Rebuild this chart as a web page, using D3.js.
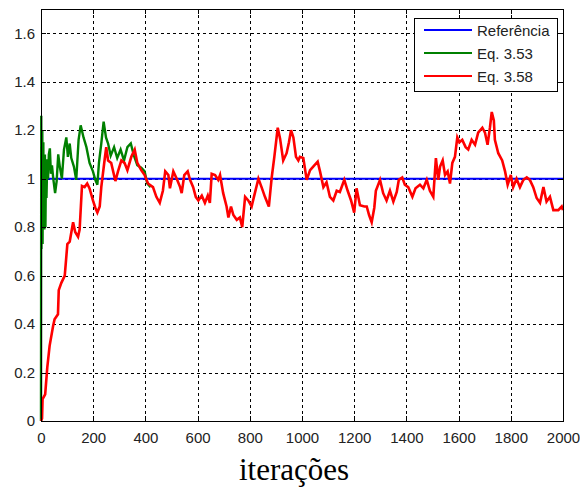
<!DOCTYPE html>
<html>
<head>
<meta charset="utf-8">
<script src="https://cdn.jsdelivr.net/npm/d3@7"></script>
<style>
  html, body { margin: 0; padding: 0; background: #fff; }
  svg { display: block; }
</style>
</head>
<body>
<svg id="chart" width="580" height="488"></svg>
<script>
// ---------- data ----------
const xTicks = [0, 200, 400, 600, 800, 1000, 1200, 1400, 1600, 1800, 2000];
const yTicks = [0, 0.2, 0.4, 0.6, 0.8, 1, 1.2, 1.4, 1.6];
const yTickLabels = ["0", "0.2", "0.4", "0.6", "0.8", "1", "1.2", "1.4", "1.6"];
const seriesNames = ["Referência", "Eq. 3.53", "Eq. 3.58"];
const seriesColors = ["#0000ff", "#008000", "#ff0000"];
const xLabel = "iterações";

const refIter = [0, 2000];
const refVal = [1, 1];

const greenIter = [0,1,2,3,4,5,6,7,8,9,10,12,13,15,17,19,21,24,27,30,34,38,42,47,54,60,66,72,80,88,97,103,110,116,126,135,144,152,163,174,186,199,208,216,222,231,240,249,257,267,280,292,305,318,331,344,356,369,384,397,407,420,430];
const greenVal  = [0,1.26,0.71,1.12,0.78,1.2,0.73,1.05,0.8,1.15,0.82,1.08,0.79,1.1,0.8,1.05,0.92,1.08,1.0,1.1,1.125,1.02,1.055,1.0,0.94,0.99,1.1,1.05,1.0,1.12,1.17,1.09,1.145,1.085,1.05,0.995,1.16,1.22,1.17,1.13,1.065,1.03,0.995,0.975,1.065,1.145,1.235,1.17,1.145,1.095,1.13,1.085,1.12,1.075,1.13,1.145,1.095,1.055,1.045,1.03,0.98,0.965];

const redIter = [0,4,6,16,24,33,46,52,65,68,78,91,101,110,123,131,142,148,157,167,177,186,199,208,216,225,231,244,250,257,269,285,295,308,320,331,346,359,369,384,397,410,429,442,455,467,476,488,494,507,520,533,539,549,562,571,583,593,603,616,628,639,647,654,667,679,686,698,711,718,728,737,750,762,771,782,794,807,817,833,845,858,873,884,894,907,916,928,941,950,958,967,977,986,992,1005,1018,1031,1043,1060,1069,1082,1094,1107,1120,1133,1145,1162,1175,1188,1200,1209,1222,1239,1248,1257,1267,1277,1283,1299,1311,1324,1337,1350,1363,1371,1384,1394,1407,1423,1435,1452,1465,1478,1490,1503,1513,1522,1529,1539,1548,1558,1567,1576,1586,1595,1603,1614,1627,1637,1650,1663,1675,1691,1701,1711,1720,1727,1735,1739,1752,1767,1778,1788,1800,1809,1822,1835,1848,1861,1873,1886,1899,1912,1925,1937,1950,1963,1982,1995,2000];
const redVal  = [0,0.01,0.09,0.11,0.22,0.31,0.39,0.42,0.44,0.54,0.57,0.60,0.73,0.74,0.82,0.78,0.76,0.79,0.97,0.965,0.98,0.96,0.91,0.88,0.86,0.885,0.965,1.08,1.13,1.075,1.065,0.99,1.03,1.075,1.065,1.035,1.09,1.12,1.065,1.035,1.015,0.98,0.965,0.925,0.90,0.95,1.03,1.015,0.96,1.03,1.0,0.965,0.94,1.015,1.03,0.995,0.965,0.925,0.91,0.93,0.90,0.93,0.90,1.02,1.015,0.995,1.015,0.94,0.885,0.84,0.885,0.85,0.83,0.84,0.80,0.925,0.91,0.885,0.93,1.0,0.965,0.925,0.885,1.005,1.09,1.21,1.165,1.075,1.105,1.15,1.20,1.17,1.09,1.075,1.09,1.085,0.995,1.035,1.05,1.07,1.03,0.965,0.985,0.925,0.91,0.95,0.945,0.995,0.95,0.91,0.86,0.96,0.89,0.885,0.885,0.85,0.82,0.88,0.95,0.995,0.94,0.91,0.95,0.905,0.945,0.995,1.005,0.975,0.965,0.925,0.96,0.975,0.96,0.995,0.95,0.925,1.085,0.995,1.05,1.075,1.015,1.03,0.98,1.065,1.09,1.17,1.15,1.16,1.13,1.12,1.16,1.14,1.19,1.21,1.19,1.14,1.21,1.275,1.24,1.16,1.105,1.075,1.03,0.975,1.015,0.965,1.0,0.965,0.995,1.005,0.995,0.965,0.92,0.90,0.965,0.905,0.925,0.87,0.87,0.885,0.87];

// ---------- chart ----------
const svg = d3.select("#chart");
const L = 41, R = 563, T = 9, B = 421;
const x = d3.scaleLinear().domain([0, 2000]).range([L, R]);
const y = d3.scaleLinear().domain([0, 1.7]).range([B, T]);
const sans = "'Liberation Sans', Arial, sans-serif";

svg.append("rect").attr("x", 0).attr("y", 0).attr("width", 580).attr("height", 488).attr("fill", "#fff");

// grid
const grid = svg.append("g").attr("stroke", "#000").attr("stroke-width", 1).attr("stroke-dasharray", "3,3").attr("shape-rendering", "crispEdges");
grid.selectAll("line.vx").data(xTicks.slice(1, -1)).join("line")
  .attr("x1", d => Math.round(x(d)) + 0.5).attr("x2", d => Math.round(x(d)) + 0.5)
  .attr("y1", T).attr("y2", B);
grid.selectAll("line.hy").data(yTicks.slice(1)).join("line")
  .attr("x1", L).attr("x2", R)
  .attr("y1", d => Math.round(y(d)) + 0.5).attr("y2", d => Math.round(y(d)) + 0.5);

// lines
function drawSeries(iters, vals, color, width) {
  const pts = iters.map((d, i) => [d, vals[i]]);
  svg.append("path").datum(pts)
    .attr("fill", "none").attr("stroke", color).attr("stroke-width", width)
    .attr("stroke-linejoin", "miter")
    .attr("d", d3.line().x(d => x(d[0])).y(d => y(d[1])));
}
drawSeries(refIter, refVal, seriesColors[0], 2);
drawSeries(greenIter, greenVal, seriesColors[1], 2.4);
drawSeries(redIter, redVal, seriesColors[2], 2.6);

// axes (inward ticks, MATLAB style)
const axBottom = svg.append("g").attr("transform", `translate(0,${B})`)
  .call(d3.axisBottom(x).tickValues(xTicks).tickSizeInner(-5).tickSizeOuter(0).tickPadding(11)
    .tickFormat(d3.format("d")));
const axTop = svg.append("g").attr("transform", `translate(0,${T})`)
  .call(d3.axisTop(x).tickValues(xTicks).tickSizeInner(-5).tickSizeOuter(0).tickFormat(""));
const axLeft = svg.append("g").attr("transform", `translate(${L},0)`)
  .call(d3.axisLeft(y).tickValues(yTicks).tickSizeInner(-5).tickSizeOuter(0).tickPadding(11)
    .tickFormat((d, i) => yTickLabels[i]));
const axRight = svg.append("g").attr("transform", `translate(${R},0)`)
  .call(d3.axisRight(y).tickValues(yTicks).tickSizeInner(-5).tickSizeOuter(0).tickFormat(""));

[axBottom, axTop, axLeft, axRight].forEach(g => {
  g.attr("font-family", null).attr("font-size", null);
  g.select(".domain").remove();
  g.selectAll("line").attr("stroke", "#000").attr("shape-rendering", "crispEdges");
  g.selectAll("text").style("font-size", "15px").style("fill", "#222").style("font-family", sans);
});
axLeft.selectAll("text").attr("x", -6);

svg.append("rect").attr("x", L + 0.5).attr("y", T + 0.5).attr("width", R - L).attr("height", B - T)
  .attr("fill", "none").attr("stroke", "#000").attr("stroke-width", 1).attr("shape-rendering", "crispEdges");

// x label
svg.append("text").attr("x", 294).attr("y", 480).attr("text-anchor", "middle")
  .style("font-family", "'Liberation Serif', 'Times New Roman', serif").style("font-size", "31px")
  .style("fill", "#000").text(xLabel);

// legend
const lg = svg.append("g");
lg.append("rect").attr("x", 414.5).attr("y", 18.5).attr("width", 143).attr("height", 73)
  .attr("fill", "#fff").attr("stroke", "#000").attr("shape-rendering", "crispEdges");
const rowsY = [30, 53, 76];
seriesNames.forEach((name, i) => {
  lg.append("line").attr("x1", 424).attr("x2", 472).attr("y1", rowsY[i]).attr("y2", rowsY[i])
    .attr("stroke", seriesColors[i]).attr("stroke-width", 2);
  lg.append("text").attr("x", 477).attr("y", rowsY[i] + 5.5)
    .style("font-size", "15px").style("font-family", sans).style("fill", "#222").text(name);
});
</script>
</body>
</html>
